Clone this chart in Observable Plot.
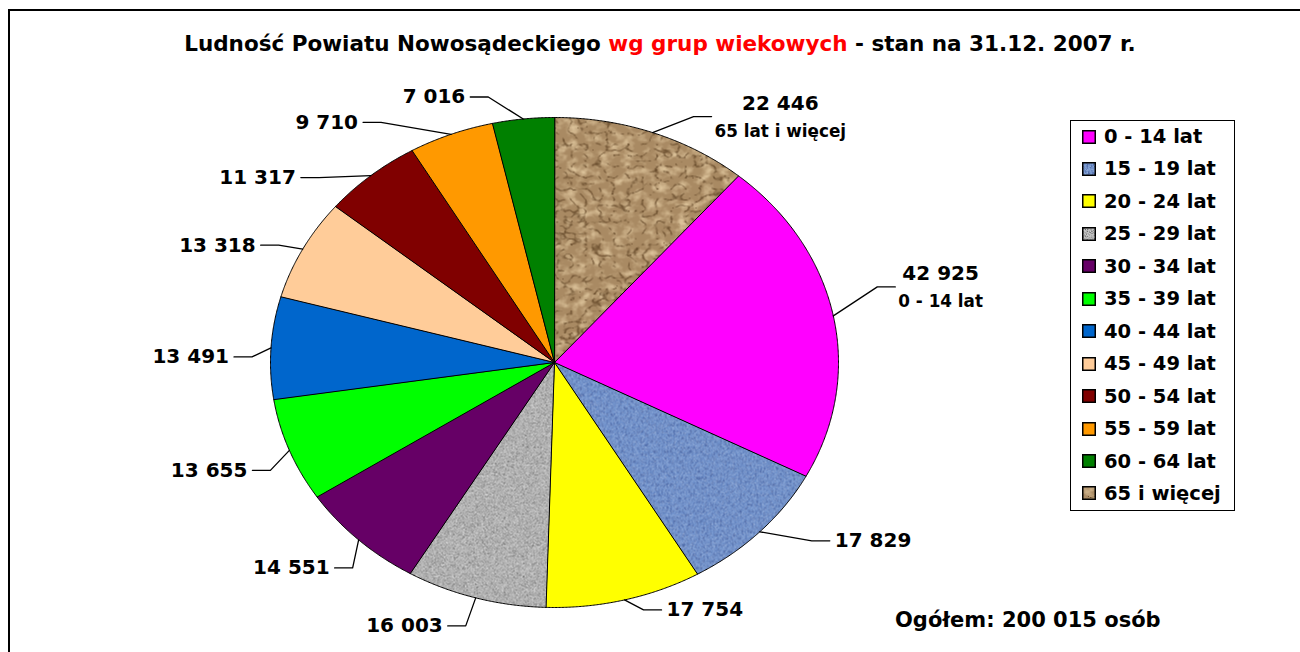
<!DOCTYPE html>
<html><head><meta charset="utf-8">
<script src="https://cdn.jsdelivr.net/npm/d3@7"></script>
<script src="https://cdn.jsdelivr.net/npm/@observablehq/plot@0.6"></script>
<style>
html,body{margin:0;padding:0;background:#fff;}
#wrap{position:relative;width:1300px;height:652px;overflow:hidden;font-family:"DejaVu Sans",sans-serif;font-weight:bold;color:#000;}
#frame{position:absolute;left:8px;top:9px;width:1400px;height:700px;border-top:2px solid #000;border-left:2px solid #000;}
#title{position:absolute;left:0;width:1320px;top:31px;text-align:center;font-size:21.5px;white-space:nowrap;}
#title .red{color:#ff0000;}
#chart{position:absolute;left:0;top:0;}
#legend{position:absolute;left:1070px;top:120px;width:165px;height:391px;border:1.5px solid #000;box-sizing:border-box;background:#fff;}
.li{position:absolute;left:11px;height:22px;display:flex;align-items:center;font-size:19.5px;white-space:nowrap;}
.li svg{margin-right:8px;}
#total{position:absolute;left:895px;top:608px;font-size:21px;white-space:nowrap;}
</style></head>
<body>
<svg width="0" height="0" style="position:absolute">
  <defs>
    <filter id="fBrownDark" x="0" y="0" width="1" height="1" color-interpolation-filters="sRGB">
      <feTurbulence type="turbulence" baseFrequency="0.07 0.09" numOctaves="2" seed="5"/>
      <feColorMatrix type="matrix" values="0 0 0 0 0.36  0 0 0 0 0.25  0 0 0 0 0.13  -6 0 0 0 0.85"/>
    </filter>
    <filter id="fBrownLight" x="0" y="0" width="1" height="1" color-interpolation-filters="sRGB">
      <feTurbulence type="fractalNoise" baseFrequency="0.09 0.12" numOctaves="3" seed="11"/>
      <feColorMatrix type="matrix" values="0 0 0 0 0.86  0 0 0 0 0.76  0 0 0 0 0.6  0 2.5 0 0 -1.1"/>
    </filter>
    <filter id="fFineDark" x="0" y="0" width="1" height="1" color-interpolation-filters="sRGB">
      <feTurbulence type="fractalNoise" baseFrequency="1.1" numOctaves="2" seed="3"/>
      <feColorMatrix type="matrix" values="0 0 0 0 0.2  0 0 0 0 0.2  0 0 0 0 0.2  2.4 0 0 0 -1.05"/>
    </filter>
    <filter id="fFineLight" x="0" y="0" width="1" height="1" color-interpolation-filters="sRGB">
      <feTurbulence type="fractalNoise" baseFrequency="1.1" numOctaves="2" seed="8"/>
      <feColorMatrix type="matrix" values="0 0 0 0 1  0 0 0 0 1  0 0 0 0 1  0 2.4 0 0 -1.05"/>
    </filter>
    <filter id="fBlueGrid" x="0" y="0" width="1" height="1" color-interpolation-filters="sRGB">
      <feTurbulence type="fractalNoise" baseFrequency="0.6 0.3" numOctaves="2" seed="4"/>
      <feColorMatrix type="matrix" values="0 0 0 0 0.25  0 0 0 0 0.35  0 0 0 0 0.6  2.2 0 0 0 -0.95"/>
    </filter>
    <pattern id="tex65" patternUnits="userSpaceOnUse" width="500" height="500">
      <rect width="500" height="500" fill="#a98a63"/>
      <rect width="500" height="500" filter="url(#fBrownLight)"/>
      <rect width="500" height="500" filter="url(#fBrownDark)"/>
    </pattern>
    <pattern id="tex1519" patternUnits="userSpaceOnUse" width="500" height="500">
      <rect width="500" height="500" fill="#7092cc"/>
      <rect width="500" height="500" filter="url(#fBlueGrid)"/>
      <rect width="500" height="500" filter="url(#fFineLight)" opacity="0.35"/>
    </pattern>
    <pattern id="tex2529" patternUnits="userSpaceOnUse" width="500" height="500">
      <rect width="500" height="500" fill="#b4b4b4"/>
      <rect width="500" height="500" filter="url(#fFineDark)" opacity="0.7"/>
      <rect width="500" height="500" filter="url(#fFineLight)" opacity="0.7"/>
    </pattern>
  </defs>
</svg>
<div id="wrap">
  <div id="frame"></div>
  <div id="title">Ludność Powiatu Nowosądeckiego <span class="red">wg grup wiekowych</span> - stan na 31.12. 2007 r.</div>
  <div id="chart"></div>
  <div id="legend"></div>
  <div id="total"></div>
</div>
<script>
// ---- data ----
const categories = ["0 - 14 lat","15 - 19 lat","20 - 24 lat","25 - 29 lat","30 - 34 lat","35 - 39 lat","40 - 44 lat","45 - 49 lat","50 - 54 lat","55 - 59 lat","60 - 64 lat","65 i więcej"];
const values = [42925,17829,17754,16003,14551,13655,13491,13318,11317,9710,7016,22446];
const sliceSubLabels = ["0 - 14 lat","","","","","","","","","","","65 lat i więcej"];
const fills = ["#ff00ff","url(#tex1519)","#ffff00","url(#tex2529)","#660066","#00ff00","#0066cc","#ffcc99","#800000","#ff9900","#008000","url(#tex65)"];
// label leader elbow nudges (pixels, from slice edge midpoint)
const labelNudges = [[44,-29],[52,9],[19,10],[-10,28],[-6,28],[-19,20],[-19,9],[-24,-4],[-52,2],[-70,-12],[-35,-22],[41,-16]];

// ---- layout ----
const CX = 554, CY = 362, RX = 284, RY = 245;
const SUB = 16.8;
const fmt = d3.formatLocale({decimal: ",", thousands: " ", grouping: [3], currency: ["", " zł"]}).format(",d");

const order = [11,0,1,2,3,4,5,6,7,8,9,10];
const arcs = d3.pie().sort(null).value(i => values[i])(order);

const slicePts = [];
const leaderPts = [];
const labelRows = [];
const canvas = document.createElement("canvas").getContext("2d");
function textW(str, size){ canvas.font = `bold ${size}px "DejaVu Sans"`; return canvas.measureText(str).width; }

for (const a of arcs) {
  const i = a.data;
  const n = Math.max(2, Math.ceil((a.endAngle - a.startAngle) / 0.005));
  slicePts.push({k: i, x: 0, y: 0, fill: fills[i]});
  for (let j = 0; j <= n; j++) {
    const t = a.startAngle + (a.endAngle - a.startAngle) * j / n;
    slicePts.push({k: i, x: Math.sin(t), y: Math.cos(t), fill: fills[i]});
  }
  const m = (a.startAngle + a.endAngle) / 2;
  const ex = Math.sin(m), ey = Math.cos(m);
  const [nx, ny] = labelNudges[i];
  const bx = ex + nx / RX, by = ey - ny / RY;
  const side = ex >= 0 ? 1 : -1;
  const endx = bx + side * 18 / RX;
  leaderPts.push({k: i, x: ex, y: ey}, {k: i, x: bx, y: by}, {k: i, x: endx, y: by});
  const main = fmt(values[i]);
  const sub = sliceSubLabels[i];
  if (sub) {
    const w = Math.max(textW(main, 20), textW(sub, SUB));
    const cx = endx + (3 + w / 2) / RX;
    labelRows.push({x: cx, y: by + 13 / RY, text: main, size: 20, anchor: "middle"});
    labelRows.push({x: cx, y: by - 15 / RY, text: sub, size: SUB, anchor: "middle"});
  } else {
    labelRows.push({x: endx + side * 5 / RX, y: by, text: main, size: 20, anchor: side > 0 ? "start" : "end"});
  }
}

const textMark = (rows, size, anchor) => Plot.text(rows.filter(d => d.size === size && d.anchor === anchor), {
  x: "x", y: "y", text: "text", fill: "#000", fontSize: size, fontWeight: "bold",
  fontFamily: "DejaVu Sans", textAnchor: anchor, lineAnchor: "middle"
});

const chart = Plot.plot({
  width: 1300, height: 652, margin: 0,
  x: {type: "linear", domain: [-1, 1], range: [CX - RX, CX + RX], axis: null},
  y: {type: "linear", domain: [-1, 1], range: [CY + RY, CY - RY], axis: null},
  color: {type: "identity"},
  style: {background: "transparent", overflow: "visible"},
  marks: [
    Plot.line(slicePts, {x: "x", y: "y", z: "k", fill: "fill", stroke: "#000", strokeWidth: 1, curve: "linear-closed", strokeLinejoin: "round"}),
    Plot.line(leaderPts, {x: "x", y: "y", z: "k", stroke: "#000", strokeWidth: 1.3}),
    textMark(labelRows, 20, "start"),
    textMark(labelRows, 20, "end"),
    textMark(labelRows, 20, "middle"),
    textMark(labelRows, SUB, "middle")
  ]
});
document.getElementById("chart").appendChild(chart);

// legend
const legend = document.getElementById("legend");
categories.forEach((c, i) => {
  const row = document.createElement("div");
  row.className = "li";
  row.style.top = (137 + 32.45 * i - 11 - 121.5) + "px";
  row.innerHTML = `<svg width="14" height="14"><rect x="0.75" y="0.75" width="12.5" height="12.5" fill="${fills[i]}" stroke="#000" stroke-width="1.5"/></svg><span>${c}</span>`;
  legend.appendChild(row);
});
document.getElementById("total").textContent = `Ogółem: ${fmt(d3.sum(values))} osób`;
</script>
</body></html>
